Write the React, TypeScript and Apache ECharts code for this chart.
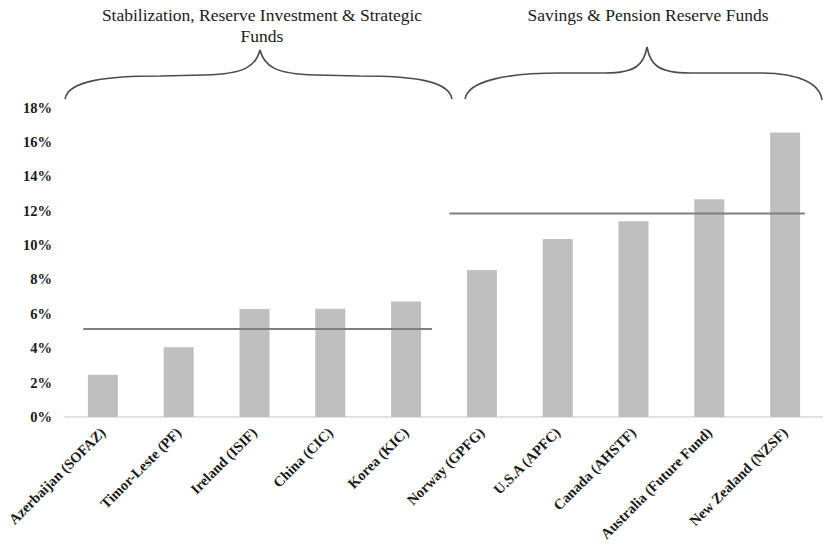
import React, { useEffect, useRef } from "react";
import * as echarts from "echarts";

const categories = [
  "Azerbaijan (SOFAZ)",
  "Timor-Leste (PF)",
  "Ireland (ISIF)",
  "China (CIC)",
  "Korea (KIC)",
  "Norway (GPFG)",
  "U.S.A (APFC)",
  "Canada (AHSTF)",
  "Australia (Future Fund)",
  "New Zealand (NZSF)",
];
const returns = [2.45, 4.05, 6.28, 6.3, 6.72, 8.55, 10.35, 11.38, 12.66, 16.55];
const groupTitles = ["Stabilization, Reserve Investment & Strategic\nFunds", "Savings & Pension Reserve Funds"];
const stabAverage = [[0.24, 5.12], [4.84, 5.12]];
const savingsAverage = [[5.07, 11.84], [9.76, 11.84]];

const leftBrace =
  "M65 99 C68 80 110 76 160 76 L205 75 C245 74 256 66 260 50 C264 66 275 74 315 75 L360 76 C410 76 449 80 452 99";
const rightBrace =
  "M465 99 C468 80 510 73 560 73 L605 73 C638 73 644 63 647 47 C650 63 656 73 690 73 L760 73 C800 73 820 84 822 100";

export default function App() {
  const ref = useRef<HTMLDivElement>(null);
  useEffect(() => {
    if (!ref.current) return;
    echarts.graphic.registerShape("braceL", echarts.graphic.extendPath(leftBrace, {}) as any);
    echarts.graphic.registerShape("braceR", echarts.graphic.extendPath(rightBrace, {}) as any);
    const chart = echarts.init(ref.current, undefined, { renderer: "svg" });
    const serif = "'Liberation Serif', 'Times New Roman', serif";
    chart.setOption({
      animation: false,
      backgroundColor: "#ffffff",
      grid: { left: 65, top: 107.5, width: 761, height: 309.5, containLabel: false },
      xAxis: [
        {
          type: "category",
          data: categories,
          axisLine: { show: true, lineStyle: { color: "#d9d9d9", width: 1.5 } },
          axisTick: { show: false },
          axisLabel: {
            rotate: 45,
            interval: 0,
            margin: 13,
            fontFamily: serif,
            fontSize: 14.5,
            fontWeight: "bold",
            color: "#1a1a1a",
          },
        },
        { type: "value", min: 0, max: 10, show: false },
      ],
      yAxis: {
        type: "value",
        min: 0,
        max: 18,
        interval: 2,
        axisLine: { show: false },
        axisTick: { show: false },
        splitLine: { show: false },
        axisLabel: {
          formatter: "{value}%",
          margin: 13,
          fontFamily: serif,
          fontSize: 14.5,
          fontWeight: "bold",
          color: "#1a1a1a",
        },
      },
      series: [
        {
          type: "bar",
          data: returns,
          barWidth: 30,
          itemStyle: { color: "#bfbfbf" },
          silent: true,
        },
        {
          type: "line",
          xAxisIndex: 1,
          data: stabAverage,
          symbol: "none",
          lineStyle: { color: "#7f7f7f", width: 2 },
          silent: true,
        },
        {
          type: "line",
          xAxisIndex: 1,
          data: savingsAverage,
          symbol: "none",
          lineStyle: { color: "#7f7f7f", width: 2 },
          silent: true,
        },
      ],
      graphic: [
        { type: "braceL", x: 0, y: 0, style: { fill: "none", stroke: "#4d4d4d", lineWidth: 1.6 } },
        { type: "braceR", x: 0, y: 0, style: { fill: "none", stroke: "#4d4d4d", lineWidth: 1.6 } },
        {
          type: "text",
          x: 262,
          y: 4,
          style: {
            text: groupTitles[0],
            fontFamily: serif,
            fontSize: 17.5,
            lineHeight: 21,
            fill: "#1a1a1a",
            textAlign: "center",
          },
        },
        {
          type: "text",
          x: 648,
          y: 4,
          style: {
            text: groupTitles[1],
            fontFamily: serif,
            fontSize: 17.5,
            lineHeight: 21,
            fill: "#1a1a1a",
            textAlign: "center",
          },
        },
      ],
    });
    return () => chart.dispose();
  }, []);
  return (
    <div
      ref={ref}
      style={{ position: "absolute", left: 0, top: 0, width: 823, height: 546, background: "#fff" }}
    />
  );
}
